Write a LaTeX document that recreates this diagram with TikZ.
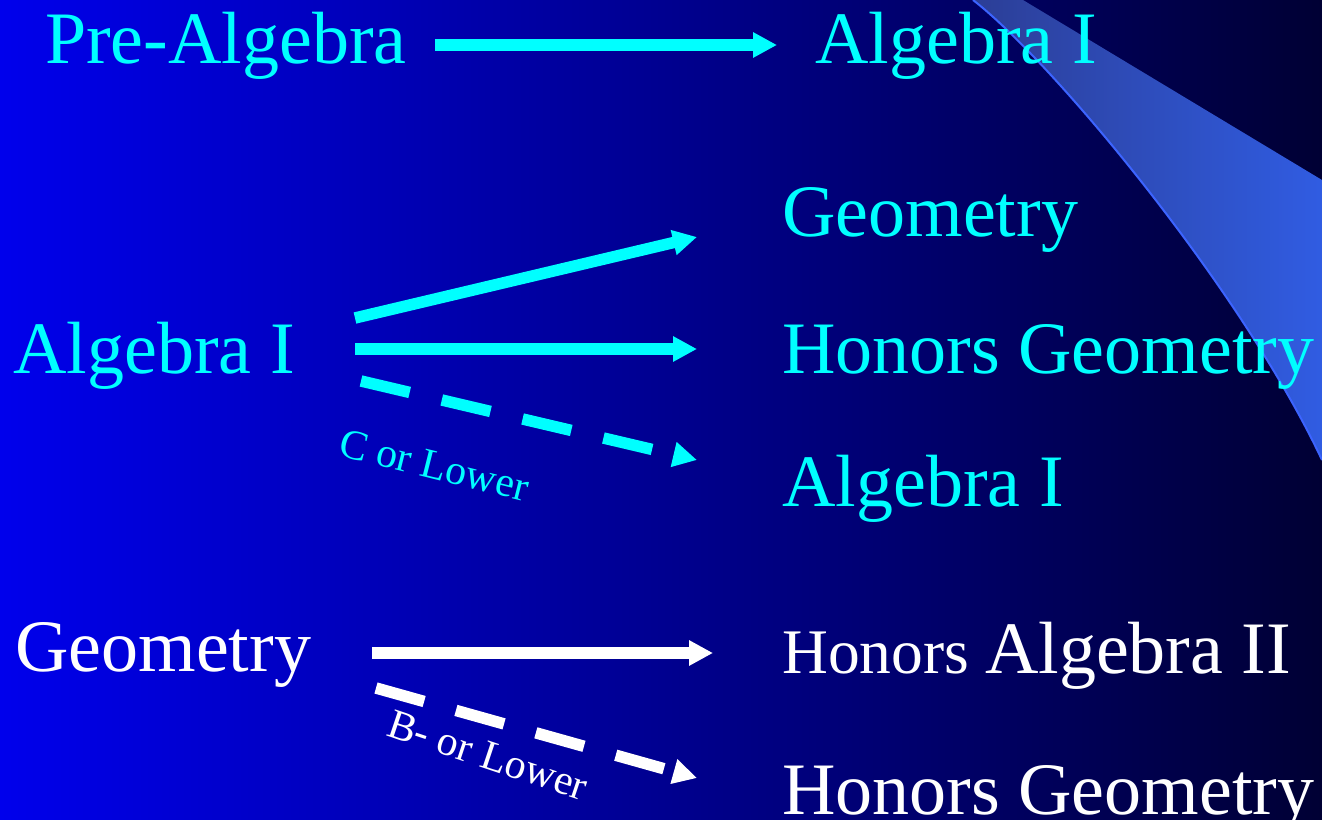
\documentclass[tikz,border=0pt]{standalone}
\usepackage{fontspec}
\setmainfont{Liberation Serif}
\usetikzlibrary{arrows.meta}
\definecolor{cy}{RGB}{0,255,255}
\definecolor{bgl}{RGB}{0,0,236}
\definecolor{bgm}{RGB}{0,0,168}
\definecolor{bgr}{RGB}{0,0,52}
\definecolor{swl}{RGB}{44,62,150}
\definecolor{swr}{RGB}{48,92,226}
\definecolor{swedge}{RGB}{60,100,255}
\tikzset{
  big/.style={inner sep=0pt, anchor=base west, font=\fontsize{74}{80}\selectfont},
  small/.style={inner sep=0pt, anchor=base west, font=\fontsize{42}{48}\selectfont},
  arr/.style={line width=11.5pt, -{Triangle[length=24pt,width=24pt]}},
  dasharr/.style={arr, dash pattern=on 50pt off 33pt},
}
\begin{document}
\begin{tikzpicture}[x=1pt,y=-1pt]
\useasboundingbox (0,0) rectangle (1322,819);
\shade[left color=bgl, middle color=bgm, right color=bgr] (0,0) rectangle (1322,819);
% decorative swoosh
\shade[left color=swl, right color=swr]
  (973,0) .. controls (1053,62) and (1242,290) .. (1322,460) -- (1322,180) -- (1023,0) -- cycle;
\draw[swedge, line width=2pt] (973,0) .. controls (1053,62) and (1242,290) .. (1322,460);

% texts
\node[big, text=cy] (pa) at (45,63) {Pre-Algebra};
\node[big, text=cy] (a1top) at (815,63) {Algebra I};
\node[big, text=cy] (geo1) at (782,236) {Geometry};
\node[big, text=cy] (a1left) at (13,373) {Algebra I};
\node[big, text=cy] (hgeo1) at (782,373) {Honors Geometry};
\node[big, text=cy] (a1right) at (782,506) {Algebra I};
\node[big, text=white] (geo2) at (15,671) {Geometry};
\node[big, text=white] (ha2) at (782,673) {\fontsize{63.5}{70}\selectfont Honors \fontsize{74}{80}\selectfont Algebra II};
\node[big, text=white] (hgeo2) at (782,814) {Honors Geometry};

% arrow end points
\coordinate (s0) at (435,45);   \coordinate (e0) at (777,45);
\coordinate (s1) at (355,318);  \coordinate (e1) at (697,237);
\coordinate (s2) at (355,349);  \coordinate (e2) at (697,349);
\coordinate (s3) at (361,381);  \coordinate (e3) at (697,460);
\coordinate (s4) at (372,653);  \coordinate (e4) at (713,653);
\coordinate (s5) at (376,688);  \coordinate (e5) at (697,778);

\draw[arr, cy] (s0) -- (e0);
\draw[arr, cy] (s1) -- (e1);
\draw[arr, cy] (s2) -- (e2);
\draw[dasharr, cy] (s3) -- (e3);
\draw[arr, white] (s4) -- (e4);
\draw[dasharr, white] (s5) -- (e5);

\node[small, text=cy, rotate=-14] (lbl1) at (337,455) {C or Lower};
\node[small, text=white, rotate=-18.5] (lbl2) at (385,735) {B- or Lower};
\end{tikzpicture}
\end{document}
